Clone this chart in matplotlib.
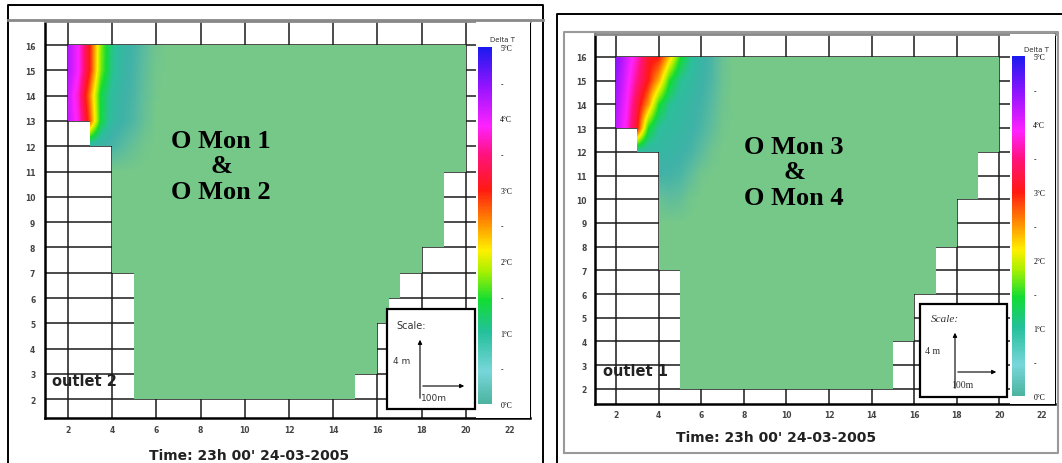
import matplotlib
matplotlib.use('Agg')
import matplotlib.pyplot as plt
import matplotlib.transforms as mtransforms
from matplotlib.colors import LinearSegmentedColormap, Normalize
from matplotlib.cm import ScalarMappable
from matplotlib.patches import Polygon, Rectangle
from matplotlib.lines import Line2D
import numpy as np

W, H = 1062, 464

# ticks
x_ticks = [2, 4, 6, 8, 10, 12, 14, 16, 18, 20, 22]
y_ticks = [2, 3, 4, 5, 6, 7, 8, 9, 10, 11, 12, 13, 14, 15, 16]

# colour scale of Delta T (deg C)
cbar_values = [0.0, 0.45, 1.0, 1.45, 1.85, 2.15, 2.55, 3.0, 3.5, 3.9, 4.45, 5.0]
cbar_colors = ['#4cb4a0', '#78d6da', '#24c09c', '#12dc34', '#a6f000', '#fff000',
               '#ff8c00', '#ff1a12', '#ff127e', '#ff22ff', '#9414ff', '#1a1aee']
cbar_ticks = [0, 0.5, 1, 1.5, 2, 2.5, 3, 3.5, 4, 4.5, 5]
cbar_labels = ['0°C', '-', '1°C', '-', '2°C', '-', '3°C', '-', '4°C', '-', '5°C']

# field colours (ambient water is green)
field_values = [0.0, 0.35, 0.7, 1.0, 1.45, 1.85, 2.15, 2.55, 3.0, 3.5, 3.9, 4.45, 5.0]
field_colors = ['#76c889', '#5cbc9e', '#3fb2a8', '#2cbf9c', '#12dc34', '#a6f000', '#fff000',
                '#ff8c00', '#ff1a12', '#ff127e', '#ff22ff', '#9414ff', '#1a1aee']
GREEN = '#76c889'

# outline of the wet cells
left_outline_x = [2, 20, 20, 19, 19, 18, 18, 17, 17, 16.5, 16.5, 16, 16, 15, 15, 5, 5, 4, 4, 3, 3, 2]
left_outline_y = [16, 16, 11, 11, 8, 8, 7, 7, 6, 6, 5, 5, 3, 3, 2, 2, 7, 7, 12, 12, 13, 13]
right_outline_x = [2, 20, 20, 19, 19, 18, 18, 17, 17, 16, 16, 15, 15, 5, 5, 4, 4, 3, 3, 2]
right_outline_y = [16, 16, 12, 12, 10, 10, 8, 8, 6, 6, 4, 4, 2, 2, 7, 7, 12, 12, 13, 13]

# Delta T near the outlet, rows y = 9..16, columns x = 2..7.5
field_x = [2, 2.5, 3, 3.5, 4, 4.5, 5, 5.5, 6, 6.5, 7, 7.5]
field_y = [9, 10, 11, 12, 13, 14, 15, 16]
left_dT = [
    [0, 0, 0, 0, 0, 0, 0, 0, 0, 0, 0, 0],
    [0, 0, 0, 0, 0, 0, 0, 0, 0, 0, 0, 0],
    [0, 0, 0, 0, 0, 0, 0, 0, 0, 0, 0, 0],
    [0.8, 0.8, 0.8, 0.75, 0.6, 0.4, 0.2, 0.05, 0, 0, 0, 0],
    [4.2, 3.8, 2.8, 1.4, 0.9, 0.7, 0.5, 0.2, 0, 0, 0, 0],
    [4.2, 3.7, 2.6, 1.4, 0.95, 0.75, 0.55, 0.25, 0.03, 0, 0, 0],
    [4.3, 3.9, 3.0, 1.75, 1.1, 0.8, 0.6, 0.3, 0.05, 0, 0, 0],
    [4.3, 3.9, 3.0, 1.8, 1.1, 0.85, 0.65, 0.35, 0.08, 0, 0, 0],
]
right_dT = [
    [0, 0, 0, 0, 0, 0, 0, 0, 0, 0, 0, 0],
    [0, 0, 0, 0.05, 0.2, 0.3, 0.25, 0.05, 0, 0, 0, 0],
    [0.6, 0.6, 0.6, 0.6, 0.65, 0.65, 0.55, 0.3, 0.05, 0, 0, 0],
    [0.9, 0.9, 0.9, 0.85, 0.85, 0.8, 0.75, 0.6, 0.35, 0.1, 0, 0],
    [4.2, 3.8, 3.0, 1.5, 1.0, 0.9, 0.85, 0.75, 0.55, 0.3, 0.05, 0],
    [4.3, 3.9, 3.2, 2.5, 1.5, 1.05, 0.9, 0.8, 0.65, 0.4, 0.1, 0],
    [4.4, 4.0, 3.5, 3.0, 2.4, 1.5, 1.05, 0.9, 0.75, 0.5, 0.15, 0],
    [4.5, 4.1, 3.7, 3.1, 3.0, 2.3, 1.5, 1.05, 0.8, 0.55, 0.15, 0],
]


def make_cmap(values, colors):
    pos = np.array(values) / 5.0
    return LinearSegmentedColormap.from_list('c', list(zip(pos, colors)))


cbar_cmap = make_cmap(cbar_values, cbar_colors)
field_cmap = make_cmap(field_values, field_colors)

fig = plt.figure(figsize=(W / 100, H / 100), dpi=100)
fig.patch.set_facecolor('white')
# pixel coordinates, origin top-left
pix = mtransforms.Affine2D().scale(1.0 / W, -1.0 / H).translate(0, 1) + fig.transFigure


def px_axes(x0, y0, x1, y1):
    return fig.add_axes([x0 / W, 1 - y1 / H, (x1 - x0) / W, (y1 - y0) / H])


def draw_panel(box, xlim, ylim, ox, oy, dT, cbox, dlt_pos, ypad, xpad):
    ax = px_axes(*box)
    ax.set_xlim(*xlim)
    ax.set_ylim(*ylim)
    ax.set_axisbelow(True)
    ax.set_xticks(x_ticks)
    ax.set_yticks(y_ticks)
    ax.grid(True, color='#1a1a1a', lw=1.1)
    ax.tick_params(length=0, labelsize=5.5, colors='#444444')
    ax.tick_params(axis='y', pad=ypad)
    ax.tick_params(axis='x', pad=xpad)
    for lab in ax.get_xticklabels() + ax.get_yticklabels():
        lab.set_fontweight('bold')
    for s in ['left', 'bottom']:
        ax.spines[s].set_linewidth(1.8)
    ax.spines['right'].set_linewidth(1.5)
    ax.spines['top'].set_color('#888888')
    ax.spines['top'].set_linewidth(2)

    poly = Polygon(np.column_stack([ox, oy]), closed=True, facecolor=GREEN,
                   edgecolor='none', zorder=2)
    ax.add_patch(poly)
    dx = (field_x[1] - field_x[0]) / 2
    dy = (field_y[1] - field_y[0]) / 2
    im = ax.imshow(np.array(dT), origin='lower', cmap=field_cmap, vmin=0, vmax=5,
                   interpolation='bilinear', interpolation_stage='data',
                   aspect='auto', zorder=3,
                   extent=(field_x[0] - dx, field_x[-1] + dx, field_y[0] - dy, field_y[-1] + dy))
    im.set_clip_path(poly)
    ax.set_xlim(*xlim)
    ax.set_ylim(*ylim)

    # white column behind the colour bar
    ax.add_patch(Rectangle((cbox[0] - 2, box[1]), box[2] - cbox[0] + 2, box[3] - box[1],
                           transform=pix, facecolor='white', edgecolor='none', zorder=4))

    cax = px_axes(*cbox)
    cb = fig.colorbar(ScalarMappable(Normalize(0, 5), cbar_cmap), cax=cax)
    cb.outline.set_visible(False)
    cb.set_ticks(cbar_ticks, labels=cbar_labels)
    cax.tick_params(length=0, labelsize=5.5, pad=6)
    for lab in cax.get_yticklabels():
        lab.set_fontfamily('Liberation Serif')
    fig.text(dlt_pos[0], dlt_pos[1], 'Delta T', transform=pix, fontsize=5,
             ha='center', va='center', color='#333333')
    return ax


ax1 = draw_panel((45, 22, 530, 419), (0.96, 22.9), (1.26, 16.95),
                 left_outline_x, left_outline_y, left_dT,
                 (478, 48, 492, 405), (503, 40), 7, 5)
ax2 = draw_panel((595, 35, 1055, 405), (1.01, 22.61), (1.36, 16.97),
                 right_outline_x, right_outline_y, right_dT,
                 (1012, 57, 1025, 397), (1037, 50), 6, 4)

# scale boxes
ax1.add_patch(Rectangle((387, 310), 88, 100, transform=pix, facecolor='white',
                        edgecolor='black', lw=1.6, zorder=6, clip_on=False))
fig.text(396, 326, 'Scale:', transform=pix, fontsize=7, ha='left', va='center', color='#333333')
fig.text(393, 362, '4 m', transform=pix, fontsize=6.5, ha='left', va='center', color='#333333')
fig.text(421, 399, '100m', transform=pix, fontsize=6.5, ha='left', va='center', color='#333333')
ax1.annotate('', xy=(420, 338), xytext=(420, 402), xycoords=pix, textcoords=pix,
             arrowprops=dict(arrowstyle='-|>', lw=0.8, color='black', mutation_scale=6), zorder=7)
ax1.annotate('', xy=(467, 387), xytext=(420, 387), xycoords=pix, textcoords=pix,
             arrowprops=dict(arrowstyle='-|>', lw=0.8, color='black', mutation_scale=6), zorder=7)

ax2.add_patch(Rectangle((920, 305), 87, 93, transform=pix, facecolor='white',
                        edgecolor='black', lw=1.6, zorder=6, clip_on=False))
fig.text(931, 320, 'Scale:', transform=pix, fontsize=8, ha='left', va='center',
         family='Liberation Serif', style='italic', color='#333333')
fig.text(925, 352, '4 m', transform=pix, fontsize=7, ha='left', va='center',
         family='Liberation Serif', color='#333333')
fig.text(951, 386, '100m', transform=pix, fontsize=7, ha='left', va='center',
         family='Liberation Serif', color='#333333')
ax2.annotate('', xy=(955, 331), xytext=(955, 392), xycoords=pix, textcoords=pix,
             arrowprops=dict(arrowstyle='-|>', lw=0.8, color='black', mutation_scale=6), zorder=7)
ax2.annotate('', xy=(999, 373), xytext=(955, 373), xycoords=pix, textcoords=pix,
             arrowprops=dict(arrowstyle='-|>', lw=0.8, color='black', mutation_scale=6), zorder=7)

# labels
fig.text(221, 167, 'O Mon 1\n&\nO Mon 2', transform=pix, fontsize=19, ha='center', va='center',
         family='Liberation Serif', fontweight='bold', linespacing=1.15, multialignment='center')
fig.text(794, 173, 'O Mon 3\n&\nO Mon 4', transform=pix, fontsize=19, ha='center', va='center',
         family='Liberation Serif', fontweight='bold', linespacing=1.15, multialignment='center')
fig.text(52, 382, 'outlet 2', transform=pix, fontsize=10.5, ha='left', va='center',
         fontweight='bold', color='#222222')
fig.text(603, 372, 'outlet 1', transform=pix, fontsize=10.5, ha='left', va='center',
         fontweight='bold', color='#222222')
fig.text(249, 456, "Time: 23h 00' 24-03-2005", transform=pix, fontsize=10, ha='center',
         va='center', fontweight='bold', color='#222222')
fig.text(776, 438, "Time: 23h 00' 24-03-2005", transform=pix, fontsize=10, ha='center',
         va='center', fontweight='bold', color='#222222')

# picture frames
fig.add_artist(Line2D([8, 8, 543, 543], [470, 6, 6, 470], transform=pix, color='black', lw=1.4))
fig.add_artist(Line2D([8, 543], [21, 21], transform=pix, color='#888888', lw=2))
fig.add_artist(Line2D([557, 557, 1065], [470, 15, 15], transform=pix, color='black', lw=1.4))
fig.add_artist(Line2D([564, 564, 1058, 1058, 564], [454, 33, 33, 454, 454], transform=pix,
                      color='#999999', lw=1.5))

fig.savefig('out.png', dpi=100, facecolor='white')
